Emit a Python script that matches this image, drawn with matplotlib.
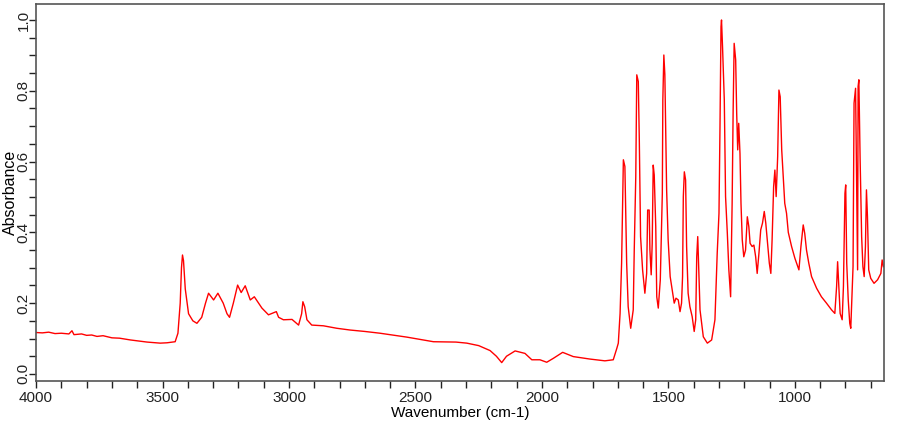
import matplotlib.pyplot as plt
from matplotlib.ticker import MultipleLocator

plt.rcParams['font.family'] = ['Liberation Sans', 'DejaVu Sans']

# spectrum (wavenumber cm-1, absorbance)
wavenumber = [4000, 3975, 3950, 3925, 3900, 3870, 3858, 3850, 3820, 3800,
              3780, 3759, 3735, 3700, 3670, 3627,
              3561, 3509, 3482, 3450, 3439, 3430, 3425, 3421, 3417, 3410,
              3397, 3380, 3364, 3345, 3330, 3318, 3298, 3281, 3260, 3245,
              3235, 3220, 3203, 3189, 3173, 3153, 3137, 3107, 3081, 3050,
              3041, 3022, 2988, 2962, 2950, 2945, 2938, 2929, 2910, 2864,
              2811, 2758, 2700, 2640, 2534, 2429, 2340, 2297, 2250, 2205,
              2180, 2159, 2140, 2106, 2067, 2040, 2008, 1981, 1955, 1918,
              1876, 1810, 1751, 1718, 1704, 1698, 1691, 1685, 1678, 1672,
              1665, 1659, 1649, 1639, 1635, 1629, 1625, 1619, 1615, 1610,
              1602, 1593, 1586, 1582, 1576, 1573, 1568, 1564, 1560, 1556,
              1550, 1546, 1540, 1532, 1524, 1522, 1518, 1514, 1511, 1507,
              1501, 1493, 1483, 1477, 1470, 1461, 1454, 1448, 1444, 1441,
              1437, 1432, 1428, 1422, 1415, 1406, 1398, 1392, 1388, 1384,
              1379, 1375, 1362, 1346, 1329, 1316, 1307, 1300, 1296, 1292,
              1290, 1286, 1279, 1274, 1267, 1261, 1254, 1248, 1244, 1240,
              1234, 1230, 1226, 1222, 1217, 1213, 1208, 1202, 1195, 1188,
              1182, 1177, 1169, 1162, 1155, 1149, 1142, 1135, 1128, 1121,
              1115, 1108, 1101, 1095, 1090, 1084, 1079, 1074, 1068, 1063,
              1058, 1052, 1046, 1040, 1033, 1026, 1013, 1000, 984, 976,
              967, 961, 954, 945, 934, 914, 895, 875, 855, 842,
              835, 831, 826, 821, 813, 808, 802, 799, 795, 789,
              783, 779, 774, 770, 766, 760, 756, 752, 750, 747,
              742, 736, 731, 726, 721, 717, 713, 708, 700, 687,
              673, 660, 655, 650]
absorbance = [0.117, 0.116, 0.118, 0.114, 0.115, 0.113, 0.122, 0.111, 0.113, 0.109,
              0.110, 0.106, 0.108, 0.102, 0.101, 0.096,
              0.090, 0.087, 0.088, 0.091, 0.115, 0.200, 0.300, 0.336, 0.320, 0.240,
              0.170, 0.150, 0.143, 0.160, 0.200, 0.228, 0.209, 0.228, 0.200, 0.170,
              0.160, 0.200, 0.251, 0.230, 0.249, 0.209, 0.218, 0.186, 0.167, 0.176,
              0.160, 0.153, 0.154, 0.138, 0.170, 0.204, 0.190, 0.153, 0.138, 0.136,
              0.129, 0.124, 0.120, 0.115, 0.104, 0.091, 0.090, 0.087, 0.080, 0.066,
              0.050, 0.032, 0.050, 0.065, 0.058, 0.040, 0.040, 0.033, 0.044, 0.061,
              0.049, 0.042, 0.037, 0.040, 0.072, 0.087, 0.171, 0.313, 0.605, 0.586,
              0.313, 0.190, 0.129, 0.181, 0.350, 0.557, 0.845, 0.826, 0.661, 0.388,
              0.294, 0.228, 0.284, 0.463, 0.463, 0.350, 0.280, 0.369, 0.590, 0.562,
              0.416, 0.218, 0.186, 0.266, 0.510, 0.774, 0.901, 0.845, 0.699, 0.520,
              0.379, 0.275, 0.228, 0.200, 0.214, 0.209, 0.176, 0.200, 0.275, 0.501,
              0.571, 0.548, 0.360, 0.228, 0.190, 0.162, 0.120, 0.153, 0.331, 0.388,
              0.275, 0.181, 0.105, 0.087, 0.096, 0.153, 0.341, 0.454, 0.699, 0.981,
              1.000, 0.925, 0.774, 0.501, 0.397, 0.294, 0.218, 0.482, 0.746, 0.934,
              0.887, 0.736, 0.633, 0.708, 0.623, 0.482, 0.379, 0.331, 0.350, 0.444,
              0.416, 0.369, 0.360, 0.364, 0.331, 0.284, 0.341, 0.407, 0.426, 0.459,
              0.426, 0.369, 0.313, 0.284, 0.379, 0.529, 0.576, 0.501, 0.614, 0.802,
              0.783, 0.633, 0.557, 0.482, 0.454, 0.400, 0.360, 0.327, 0.294, 0.360,
              0.421, 0.397, 0.350, 0.313, 0.275, 0.242, 0.218, 0.200, 0.181, 0.171,
              0.247, 0.317, 0.247, 0.171, 0.153, 0.247, 0.510, 0.534, 0.313, 0.209,
              0.143, 0.129, 0.228, 0.303, 0.765, 0.807, 0.562, 0.294, 0.812, 0.831,
              0.605, 0.388, 0.303, 0.275, 0.360, 0.520, 0.444, 0.294, 0.270, 0.256,
              0.266, 0.284, 0.322, 0.303]

fig = plt.figure(figsize=(9.1, 4.25), dpi=100)
ax = fig.add_axes([0.0396, 0.1035, 0.932, 0.887])
ax.plot(wavenumber, absorbance, color='#ff0000', linewidth=1)

ax.set_xlim(4000, 647)
ax.set_ylim(-0.02, 1.045)
ax.xaxis.set_major_locator(MultipleLocator(500))
ax.xaxis.set_minor_locator(MultipleLocator(100))
ax.yaxis.set_major_locator(MultipleLocator(0.2))
ax.yaxis.set_minor_locator(MultipleLocator(0.05))
ax.yaxis.set_major_formatter(lambda v, p: f'{v:.1f}')

ax.tick_params(which='both', direction='out', length=5, width=1, colors='#222222', labelsize=11)
ax.tick_params(axis='x', pad=2)
ax.tick_params(axis='y', pad=-1)
for lab in ax.get_yticklabels():
    lab.set_rotation(90)
    lab.set_va('center')

for sp in ax.spines.values():
    sp.set_color('#555555')
    sp.set_linewidth(1.2)

ax.set_xlabel('Wavenumber (cm-1)', fontsize=11, labelpad=1)
ax.set_ylabel('Absorbance', fontsize=11.5)
ax.yaxis.set_label_coords(-0.021, 0.5)

fig.savefig('out.png', dpi=100)
